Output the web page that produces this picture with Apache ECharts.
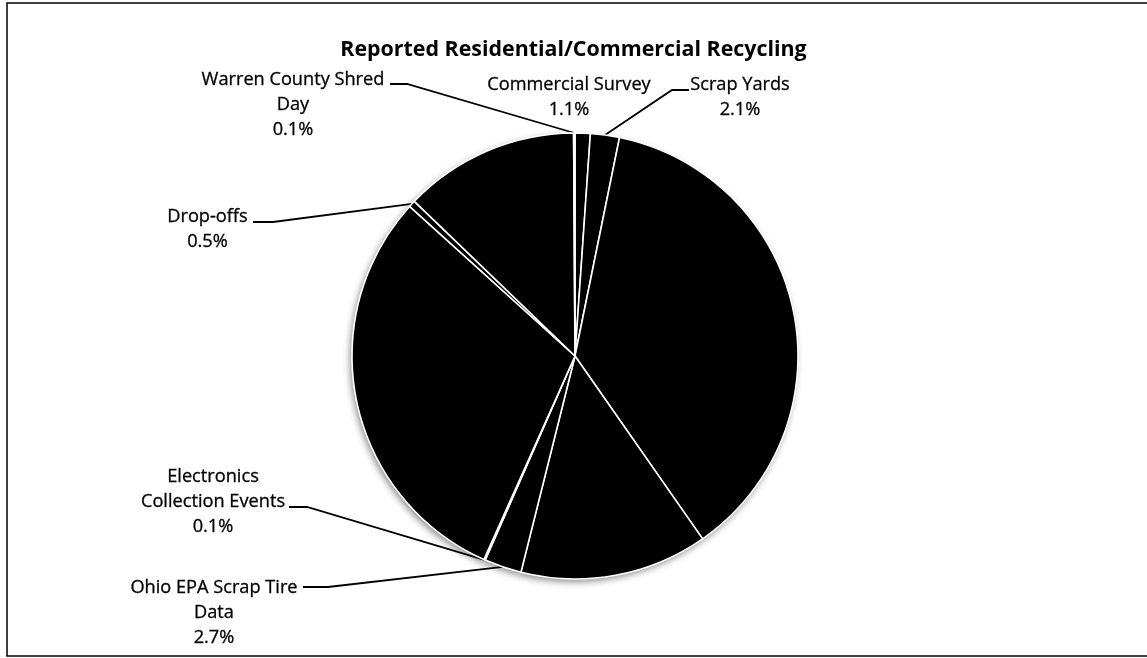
<!DOCTYPE html>
<html>
<head>
<meta charset="utf-8">
<script src="https://cdn.jsdelivr.net/npm/echarts@6/dist/echarts.min.js"></script>
<style>
  html, body { margin: 0; padding: 0; background: #fff; }
  #chart { width: 1147px; height: 658px; }
</style>
</head>
<body>
<div id="chart"></div>
<script>
// Recycling sources, clockwise from 12 o'clock
const chartTitle = 'Reported Residential/Commercial Recycling';
const categories = [
  'Commercial Survey',
  'Scrap Yards',
  'Curbside Recycling',
  'Ohio EPA Commercial Data',
  'Ohio EPA Scrap Tire Data',
  'Electronics Collection Events',
  'Yard Waste Composting',
  'Drop-offs',
  'Buyback Centers',
  'Warren County Shred Day'
];
// Label text as it is wrapped on the chart (null = slice is not labelled)
const labelTexts = [
  'Commercial Survey',
  'Scrap Yards',
  null,
  null,
  'Ohio EPA Scrap Tire\nData',
  'Electronics\nCollection Events',
  null,
  'Drop-offs',
  null,
  'Warren County Shred\nDay'
];
// Share of total tonnage, percent
const shares = [1.1, 2.1, 37.1, 13.6, 2.7, 0.1, 30.0, 0.5, 12.7, 0.1];

const FONT = '"Open Sans", "Noto Sans", sans-serif';

// Where each outside label sits: text centre x, top y, and the
// label-side end of its leader line (elbow -> end is the short horizontal run)
const labelPlacement = {
  0: { x: 569, y: 72.5 },
  1: { x: 740, y: 72.5, elbow: [672, 90], end: [689, 90] },
  4: { x: 214, y: 575.5, elbow: [328, 587], end: [303, 587] },
  5: { x: 213, y: 464.5, elbow: [307, 507], end: [289, 507] },
  7: { x: 207.5, y: 204.5, elbow: [273, 222], end: [253, 222] },
  9: { x: 293, y: 67.5, elbow: [407, 84], end: [390, 84] }
};

const center = [575, 356];
const radius = 223;

const pieData = categories.map((name, i) => ({
  name,
  value: shares[i],
  label: { show: labelTexts[i] !== null },
  labelLine: { show: !!(labelPlacement[i] && labelPlacement[i].elbow) }
}));

const chart = echarts.init(document.getElementById('chart'), null, { renderer: 'canvas' });

chart.setOption({
  animation: false,
  backgroundColor: '#ffffff',
  title: {
    text: chartTitle,
    left: 'center',
    top: 34,
    textStyle: {
      fontFamily: FONT,
      fontSize: 21.4,
      fontWeight: 'bold',
      color: '#000'
    }
  },
  graphic: [{
    type: 'rect',
    silent: true,
    shape: { x: 7, y: 3, width: 1150, height: 653 },
    style: { fill: 'none', stroke: '#000', lineWidth: 1.5 }
  }],
  series: [
    {
      // soft drop shadow under the pie
      type: 'pie',
      silent: true,
      z: 1,
      center: center,
      radius: radius,
      startAngle: 90,
      label: { show: false },
      labelLine: { show: false },
      itemStyle: {
        color: '#000',
        borderWidth: 0,
        shadowBlur: 7,
        shadowColor: 'rgba(0,0,0,0.45)',
        shadowOffsetX: -2,
        shadowOffsetY: 3
      },
      data: shares.map(v => ({ value: v }))
    },
    {
      type: 'pie',
      z: 2,
      center: center,
      radius: radius,
      startAngle: 90,
      clockwise: true,
      avoidLabelOverlap: false,
      emphasis: { disabled: true },
      itemStyle: {
        color: '#000',
        borderColor: '#fff',
        borderWidth: 1.6
      },
      label: {
        position: 'outside',
        color: '#000',
        fontFamily: FONT,
        fontSize: 18.2,
        lineHeight: 25,
        align: 'center',
        textBorderColor: '#000',
        textBorderWidth: 0.3,
        formatter: p => labelTexts[p.dataIndex] + '\n' + p.value.toFixed(1) + '%'
      },
      labelLine: {
        lineStyle: { color: '#000', width: 1.8 }
      },
      labelLayout: params => {
        const place = labelPlacement[params.dataIndex];
        if (!place) return {};
        const out = { x: place.x, y: place.y, align: 'center', verticalAlign: 'top' };
        if (place.elbow && params.labelLinePoints) {
          const edge = params.labelLinePoints[0];
          out.labelLinePoints = [edge, place.elbow, place.end];
        }
        return out;
      },
      data: pieData
    }
  ]
});
</script>
</body>
</html>
